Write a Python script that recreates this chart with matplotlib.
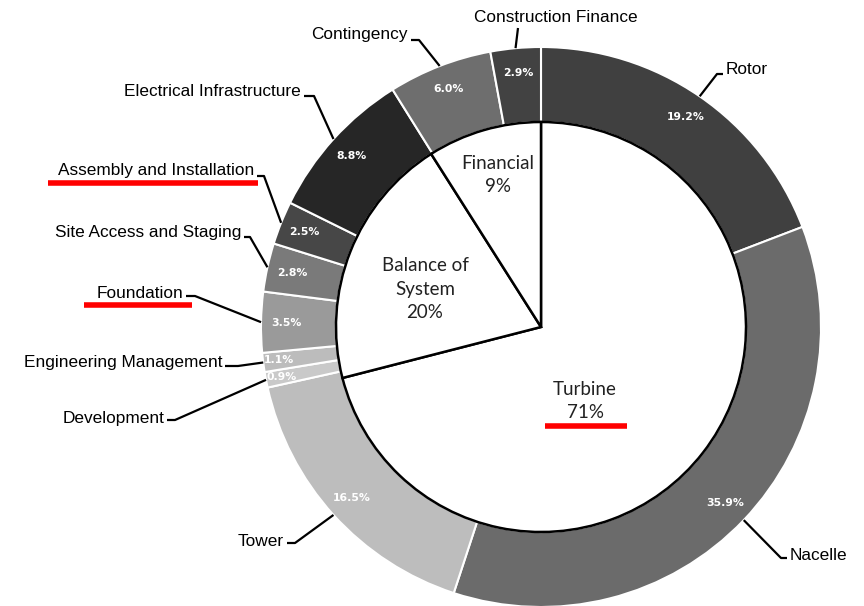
import numpy as np
import matplotlib
matplotlib.use("Agg")
import matplotlib.pyplot as plt

# outer ring: cost components, clockwise from 12 o'clock
components = ["Rotor", "Nacelle", "Tower", "Development", "Engineering Management",
              "Foundation", "Site Access and Staging", "Assembly and Installation",
              "Electrical Infrastructure", "Contingency", "Construction Finance"]
shares = [19.2, 35.9, 16.5, 0.9, 1.1, 3.5, 2.8, 2.5, 8.8, 6.0, 2.9]
ring_colors = ["#404040", "#6b6b6b", "#bdbdbd", "#c9c9c9", "#bcbcbc", "#9a9a9a",
               "#7a7a7a", "#474747", "#262626", "#6e6e6e", "#424242"]

# inner pie: groups
groups = ["Turbine\n71%", "Balance of\nSystem\n20%", "Financial\n9%"]
group_shares = [71, 20, 9]

H = 606
cx, cy = 541, H - 327
R_out, R_in = 280, 205

fig = plt.figure(figsize=(8.64, 6.06), dpi=100)
ax = fig.add_axes([0, 0, 1, 1])

wedges, _ = ax.pie(shares, radius=R_out, center=(cx, cy), startangle=90,
                   counterclock=False, colors=ring_colors,
                   wedgeprops=dict(width=R_out - R_in, edgecolor="white", linewidth=1.5))

# percentage labels inside ring
for w, v in zip(wedges, shares):
    mid = np.deg2rad((w.theta1 + w.theta2) / 2)
    r = 255 if v > 2 else 264
    ax.text(cx + r * np.cos(mid), cy + r * np.sin(mid), f"{v:.1f}%",
            ha="center", va="center", color="white", fontsize=7.8,
            fontweight="bold", family="DejaVu Sans")

inner, _ = ax.pie(group_shares, radius=R_in, center=(cx, cy), startangle=90,
                  counterclock=False, colors=["white"] * 3,
                  wedgeprops=dict(edgecolor="black", linewidth=1.8))

# group labels (image coords)
group_pos = [(585, 401), (425, 289), (498, 175)]
for txt, (x, y) in zip(groups, group_pos):
    ax.text(x, H - y, txt, ha="center", va="center", fontsize=13.5,
            family="Lato", color="#222222", linespacing=1.45)

# outer labels: text position, alignment, elbow point (image coords)
label_layout = {
    "Rotor": ((726, 70), "left", (717, 74)),
    "Nacelle": ((790, 556), "left", (781, 558)),
    "Tower": ((284, 541), "right", (295, 543)),
    "Development": ((164, 418), "right", (175, 420)),
    "Engineering Management": ((222, 363), "right", (238, 366)),
    "Foundation": ((183, 293), "right", (195, 296)),
    "Site Access and Staging": ((241, 233), "right", (250, 237)),
    "Assembly and Installation": ((254, 170), "right", (264, 176)),
    "Electrical Infrastructure": ((301, 91), "right", (314, 96)),
    "Contingency": ((408, 35), "right", (419, 40)),
    "Construction Finance": ((556, 17), "center", (518, 28)),
}

for w, name in zip(wedges, components):
    (tx, ty), ha, (ex, ey) = label_layout[name]
    mid = np.deg2rad((w.theta1 + w.theta2) / 2)
    ax_x, ax_y = cx + R_out * np.cos(mid), cy + R_out * np.sin(mid)
    ax.text(tx, H - ty, name, ha=ha, va="center", fontsize=12.4,
            family="Liberation Sans", color="black")
    if ha == "center":
        xs, ys = [ax_x, ex], [ax_y, H - ey]
    else:
        end_x = tx + (3 if ha == "right" else -3)
        xs, ys = [ax_x, ex, end_x], [ax_y, H - ey, H - ey]
    ax.plot(xs, ys, color="black", linewidth=1.6, solid_capstyle="butt")

# red underlines
underlines = [((48, 258), 183), ((84, 192), 305), ((545, 627), 426)]
for (x0, x1), y in underlines:
    ax.plot([x0, x1], [H - y, H - y], color="red", linewidth=4, solid_capstyle="butt")

ax.set_xlim(0, 864)
ax.set_ylim(0, H)
ax.set_aspect("equal")
ax.axis("off")

fig.savefig("out.png", dpi=100, facecolor="white")
